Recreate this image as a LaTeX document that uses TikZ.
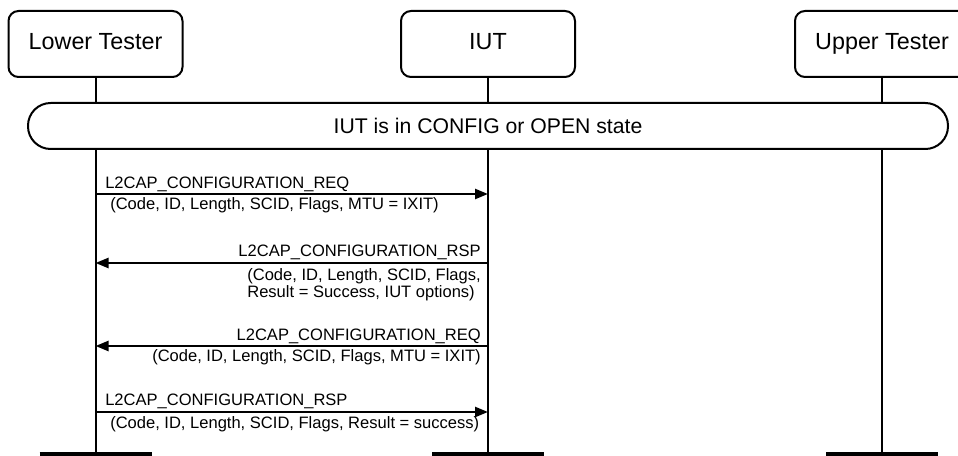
\documentclass[tikz,border=0pt]{standalone}
\usepackage{fontspec}
\setmainfont{Liberation Sans}
\usetikzlibrary{arrows.meta}

\begin{document}
\begin{tikzpicture}[x=0.75pt,y=0.75pt,yscale=-1,xscale=1,
  actor/.style={draw,line width=1.5pt,rounded corners=7.5pt,minimum width=130.5pt,minimum height=49.5pt,inner sep=0pt,text height=12.5pt,text depth=3.5pt,font=\fontsize{17.5}{20}\selectfont},
  life/.style={line width=1.5pt},
  endbar/.style={line width=3.2pt},
  msg/.style={line width=1.8pt,-{Triangle[length=9.75pt,width=7.5pt]}},
  lbl/.style={inner sep=0.75pt,font=\fontsize{12.4}{12.9}\selectfont}]
\useasboundingbox (0,0) rectangle (958,456);
% Actors
\node[actor] (lt) at (95.5,44) {Lower Tester};
\node[actor] (iut) at (488,44) {IUT};
\node[actor] (ut) at (882,44) {Upper Tester};
\coordinate (ltend) at (95.5,454);
\coordinate (iutend) at (488,454);
\coordinate (utend) at (882,454);
\draw[life] (lt) -- (ltend);
\draw[life] (iut) -- (iutend);
\draw[life] (ut) -- (utend);
\draw[endbar] ([xshift=-42pt]ltend) -- ([xshift=42pt]ltend);
\draw[endbar] ([xshift=-42pt]iutend) -- ([xshift=42pt]iutend);
\draw[endbar] ([xshift=-42pt]utend) -- ([xshift=42pt]utend);
% State
\node[draw,fill=white,line width=1.5pt,rounded corners=17pt,minimum width=690pt,minimum height=34.5pt,font=\fontsize{15.9}{18}\selectfont] (state) at (488,126) {IUT is in CONFIG or OPEN state};
% Messages
\coordinate (m1a) at (95.5,194);
\coordinate (m1b) at (488,194);
\coordinate (m2a) at (488,263);
\coordinate (m2b) at (95.5,263);
\coordinate (m3a) at (488,346);
\coordinate (m3b) at (95.5,346);
\coordinate (m4a) at (95.5,412);
\coordinate (m4b) at (488,412);
\draw[msg] (m1a) -- (m1b);
\draw[msg] (m2a) -- (m2b);
\draw[msg] (m3a) -- (m3b);
\draw[msg] (m4a) -- (m4b);
% Text Node
\node[lbl,anchor=base west] (m1top) at (104,189) {L2CAP\_CONFIGURATION\_REQ};
% Text Node
\node[lbl,anchor=base west] (m1bot) at (109,210) {(Code, ID, Length, SCID, Flags, MTU = IXIT)};
% Text Node
\node[lbl,anchor=base east] (m2top) at (482,257) {L2CAP\_CONFIGURATION\_RSP};
% Text Node
\node[lbl,anchor=north east,align=left] (m2bot) at (482,267) {(Code, ID, Length, SCID, Flags,\\Result = Success, IUT options)};
% Text Node
\node[lbl,anchor=base east] (m3top) at (482,340) {L2CAP\_CONFIGURATION\_REQ};
% Text Node
\node[lbl,anchor=base east] (m3bot) at (482,362) {(Code, ID, Length, SCID, Flags, MTU = IXIT)};
% Text Node
\node[lbl,anchor=base west] (m4top) at (104,406) {L2CAP\_CONFIGURATION\_RSP};
% Text Node
\node[lbl,anchor=base west] (m4bot) at (109,428) {(Code, ID, Length, SCID, Flags, Result = success)};
\end{tikzpicture}
\end{document}
